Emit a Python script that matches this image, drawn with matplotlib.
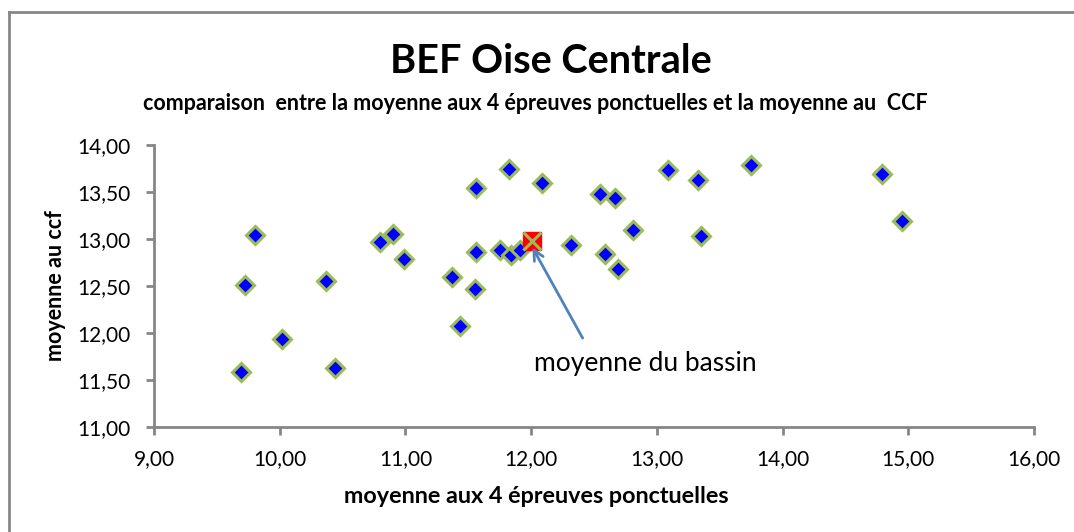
import matplotlib.pyplot as plt
from matplotlib.lines import Line2D

plt.rcParams['font.family'] = ['Lato', 'DejaVu Sans']

# moyenne aux 4 epreuves ponctuelles / moyenne au ccf, par etablissement
x_ponct = [9.69, 9.72, 9.80, 10.02, 10.37, 10.44, 10.80, 10.90, 10.99, 11.37,
           11.43, 11.55, 11.56, 11.56, 11.75, 11.82, 11.84, 11.91, 12.09, 12.32,
           12.55, 12.67, 12.59, 12.69, 12.81, 13.09, 13.33, 13.35, 13.75, 14.79,
           14.95]
y_ccf = [11.58, 12.51, 13.04, 11.94, 12.55, 11.63, 12.97, 13.05, 12.79, 12.60,
         12.07, 12.47, 12.86, 13.54, 12.88, 13.74, 12.83, 12.88, 13.60, 12.94,
         13.48, 13.44, 12.84, 12.68, 13.10, 13.73, 13.63, 13.03, 13.79, 13.69,
         13.19]

# moyenne du bassin
bassin_x = 12.01
bassin_y = 12.98

x_ticks = [9, 10, 11, 12, 13, 14, 15, 16]
y_ticks = [11.0, 11.5, 12.0, 12.5, 13.0, 13.5, 14.0]

fig = plt.figure(figsize=(10.74, 5.32), dpi=100)
ax = fig.add_axes([0.1434, 0.1974, 0.8194, 0.5300])

ax.plot(x_ponct, y_ccf, linestyle='none', marker='D', markersize=9,
        markerfacecolor='#0000FF', markeredgecolor='#9BBB59', markeredgewidth=2.2,
        zorder=3)
ax.plot([bassin_x], [bassin_y], linestyle='none', marker='s', markersize=13,
        markerfacecolor='#FF0000', markeredgecolor='#FF0000', zorder=4)
ax.plot([bassin_x], [bassin_y], linestyle='none', marker='x', markersize=12.5,
        markeredgecolor='#9BBB59', markeredgewidth=2.2, zorder=5)

ax.annotate('moyenne du bassin', xy=(bassin_x, bassin_y - 0.07),
            xytext=(12.02, 11.68), fontsize=19, va='center', ha='left',
            arrowprops=dict(arrowstyle='->', color='#4F81BD', lw=2,
                            shrinkA=0, shrinkB=0, mutation_scale=18,
                            relpos=(0.22, 1.5)), zorder=6)

ax.set_xlim(9, 16)
ax.set_ylim(11, 14)
ax.set_xticks(x_ticks)
ax.set_yticks(y_ticks)
ax.set_xticklabels([f'{v:.2f}'.replace('.', ',') for v in x_ticks])
ax.set_yticklabels([f'{v:.2f}'.replace('.', ',') for v in y_ticks])

for side in ['top', 'right']:
    ax.spines[side].set_visible(False)
for side in ['left', 'bottom']:
    ax.spines[side].set_color('#868686')
    ax.spines[side].set_linewidth(2)
ax.tick_params(direction='out', length=6, width=2, color='#868686',
               labelsize=15)
ax.tick_params(axis='x', pad=10)
ax.tick_params(axis='y', pad=11)

ax.set_xlabel('moyenne aux 4 épreuves ponctuelles', fontsize=16.8,
              fontweight='bold', va='center')
ax.xaxis.set_label_coords(0.434, -0.248)
ax.set_ylabel('moyenne au ccf', fontsize=15.5, fontweight='bold', labelpad=8)

fig.text(0.513, 0.885, 'BEF Oise Centrale', fontsize=28.5, fontweight='bold',
         ha='center', va='center')
fig.text(0.4986, 0.805, 'comparaison  entre la moyenne aux 4 épreuves ponctuelles et la moyenne au  CCF',
         fontsize=15.5, fontweight='bold', ha='center', va='center')

# cadre du graphique
fig.add_artist(Line2D([9 / 1074, 1.0], [1 - 12 / 532, 1 - 12 / 532],
                      color='#868686', lw=2, transform=fig.transFigure))
fig.add_artist(Line2D([9 / 1074, 9 / 1074], [0.0, 1 - 12 / 532],
                      color='#868686', lw=2, transform=fig.transFigure))

fig.savefig('out.png', dpi=100)
